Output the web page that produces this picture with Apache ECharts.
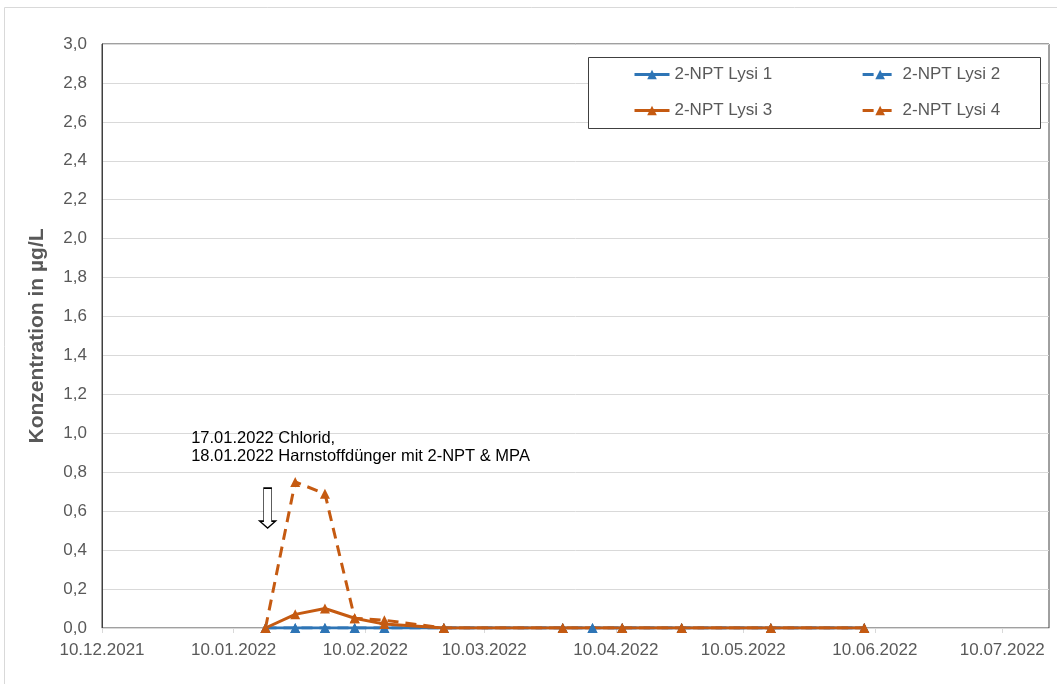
<!DOCTYPE html>
<html>
<head>
<meta charset="utf-8">
<title>2-NPT Lysimeter</title>
<script src="https://cdn.jsdelivr.net/npm/echarts@6/dist/echarts.min.js"></script>
<style>
  html, body { margin: 0; padding: 0; background: #ffffff; }
  #chart { width: 1057px; height: 684px; }
</style>
</head>
<body>
<div id="chart"></div>
<script>
// Sampling dates of the lysimeter leachate
const sampleDates = ['2022-01-17', '2022-01-24', '2022-01-31', '2022-02-07', '2022-02-14', '2022-02-28',
                     '2022-03-28', '2022-04-04', '2022-04-11', '2022-04-25', '2022-05-16', '2022-06-07'];

// 2-NPT concentrations in µg/L (null = no sample)
const lysi1 = [0, 0, 0, 0, 0, 0, 0, 0, 0, 0, 0, 0];
const lysi2 = [0, 0, 0, 0, 0, 0, 0, 0, 0, 0, 0, 0];
const lysi3 = [0, 0.07, 0.10, 0.05, 0.02, 0, 0, null, 0, 0, 0, 0];
const lysi4 = [0, 0.75, 0.69, 0.05, 0.04, 0, 0, null, 0, 0, 0, 0];

const seriesNames = ['2-NPT Lysi 1', '2-NPT Lysi 2', '2-NPT Lysi 3', '2-NPT Lysi 4'];

// Date axis range (in days from the start) and month ticks
const axisStart = '2021-12-10';
const axisLengthDays = 223;
const monthTicks = ['2021-12-10', '2022-01-10', '2022-02-10', '2022-03-10',
                    '2022-04-10', '2022-05-10', '2022-06-10', '2022-07-10'];

// Application note
const applicationDate = '2022-01-18';
const noteAnchor = ['2021-12-31', 0.925];
const noteLines = ['17.01.2022 Chlorid,', '18.01.2022 Harnstoffdünger mit 2-NPT & MPA'];

const BLUE = '#2E75B6';
const ORANGE = '#C55A11';
const GREY_TEXT = '#595959';
const GRID_LINE = '#d9d9d9';
const FONT = 'Liberation Sans, Arial, sans-serif';
const DAY = 86400000;
const DASH = [11, 7];

function utc(s) {
  const p = s.split('-').map(Number);
  return Date.UTC(p[0], p[1] - 1, p[2]);
}
// days counted from the start of the axis
function day(s) { return Math.round((utc(s) - utc(axisStart)) / DAY); }
function pad(n) { return (n < 10 ? '0' : '') + n; }
function fmtDay(v) {
  const d = new Date(utc(axisStart) + Math.round(v) * DAY);
  return pad(d.getUTCDate()) + '.' + pad(d.getUTCMonth() + 1) + '.' + d.getUTCFullYear();
}
// each sample sits in the middle of its day
function pairs(values) {
  return sampleDates.map((s, i) => [day(s) + 0.5, values[i]]);
}

const arrowPath = 'path://M4,0 L12,0 L12,33 L16,33 L8,40 L0,33 L4,33 Z';

function lineSeries(name, values, color, dashed, extra) {
  return Object.assign({
    name: name,
    type: 'line',
    data: pairs(values),
    connectNulls: true,
    symbol: 'triangle',
    symbolSize: 10,
    showAllSymbol: true,
    lineStyle: { color: color, width: 3, type: dashed ? DASH : 'solid' },
    itemStyle: { color: color },
    emphasis: { disabled: true }
  }, extra || {});
}

const tickDays = monthTicks.map(day);

function legendRow(names, top) {
  return {
    data: names,
    left: 633, top: top, padding: 0, itemGap: 89,
    itemWidth: 35, itemHeight: 12, z: 5,
    lineStyle: { width: 3 },
    textStyle: { color: GREY_TEXT, fontSize: 17, fontFamily: FONT },
    selectedMode: false
  };
}

const chart = echarts.init(document.getElementById('chart'), null, { renderer: 'canvas' });

chart.setOption({
  animation: false,
  textStyle: { fontFamily: FONT },
  graphic: [
    {
      type: 'rect', z: 0, silent: true,
      shape: { x: 4.5, y: 7.5, width: 1100, height: 700 },
      style: { fill: 'none', stroke: GRID_LINE, lineWidth: 1 }
    },
    {
      type: 'rect', z: 3, silent: true,
      shape: { x: 588.5, y: 57.5, width: 452, height: 71 },
      style: { fill: '#ffffff', stroke: '#404040', lineWidth: 1 }
    }
  ],
  grid: {
    left: 102, right: 8, top: 44, bottom: 56,
    show: true, borderColor: '#404040', borderWidth: 1, backgroundColor: 'transparent'
  },
  legend: [
    legendRow([seriesNames[0], seriesNames[1]], 66),
    legendRow([seriesNames[2], seriesNames[3]], 102)
  ],
  xAxis: {
    type: 'value',
    min: 0,
    max: axisLengthDays,
    axisLine: { show: true, onZero: false, lineStyle: { color: GRID_LINE, width: 1 } },
    axisTick: {
      show: true, length: 5,
      customValues: tickDays,
      lineStyle: { color: GRID_LINE }
    },
    axisLabel: {
      customValues: tickDays,
      formatter: fmtDay,
      color: GREY_TEXT, fontSize: 17, fontFamily: FONT, margin: 14
    },
    splitLine: { show: false }
  },
  yAxis: {
    type: 'value',
    min: 0, max: 3, interval: 0.2,
    name: 'Konzentration in µg/L',
    nameLocation: 'middle',
    nameGap: 54,
    nameTextStyle: { color: GREY_TEXT, fontSize: 21, fontWeight: 'bold', fontFamily: FONT },
    axisLine: { show: true, lineStyle: { color: '#404040', width: 1 } },
    axisTick: { show: false },
    axisLabel: {
      formatter: v => v.toFixed(1).replace('.', ','),
      color: GREY_TEXT, fontSize: 17, fontFamily: FONT, margin: 15
    },
    splitLine: { show: true, lineStyle: { color: GRID_LINE, width: 1 } }
  },
  series: [
    lineSeries(seriesNames[0], lysi1, BLUE, false),
    lineSeries(seriesNames[1], lysi2, BLUE, true),
    lineSeries(seriesNames[2], lysi3, ORANGE, false),
    lineSeries(seriesNames[3], lysi4, ORANGE, true, {
      markPoint: {
        silent: true,
        animation: false,
        data: [
          {
            coord: [day(applicationDate), 0.616],
            symbol: arrowPath,
            symbolSize: [16, 40],
            symbolKeepAspect: false,
            itemStyle: { color: '#ffffff', borderColor: '#000000', borderWidth: 1 },
            label: { show: false }
          },
          {
            coord: [day(noteAnchor[0]), noteAnchor[1]],
            symbol: 'circle',
            symbolSize: 1,
            itemStyle: { color: 'rgba(0,0,0,0)' },
            label: {
              show: true,
              position: 'inside',
              align: 'left',
              verticalAlign: 'middle',
              formatter: noteLines.join('\n'),
              color: '#000000',
              fontSize: 16.5,
              lineHeight: 18,
              fontFamily: FONT
            }
          }
        ]
      }
    })
  ]
});
</script>
</body>
</html>
